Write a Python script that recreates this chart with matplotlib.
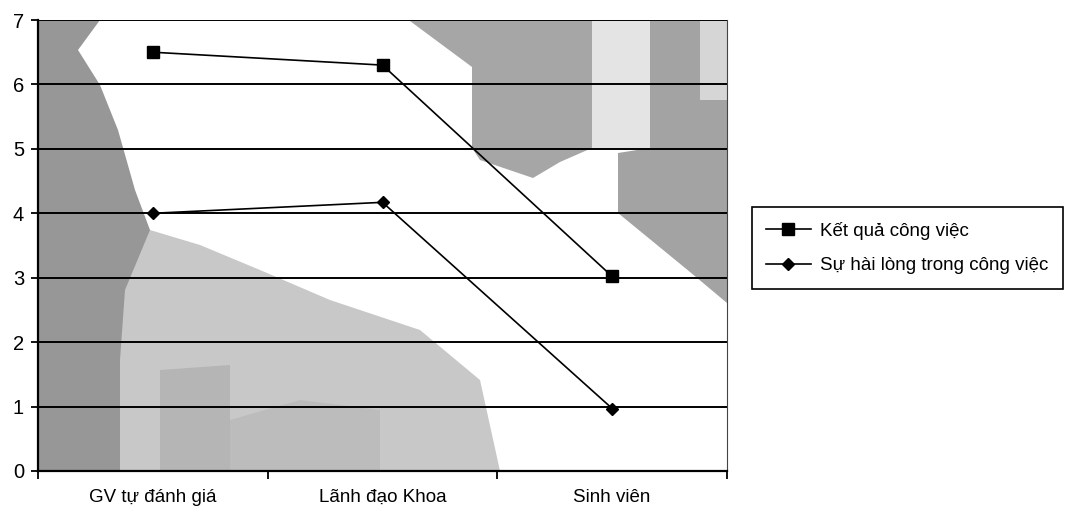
import matplotlib
matplotlib.use("Agg")
import matplotlib.pyplot as plt
from matplotlib.patches import Polygon

categories = ["GV tự đánh giá", "Lãnh đạo Khoa", "Sinh viên"]
ket_qua = [6.5, 6.3, 3.02]
hai_long = [4.0, 4.17, 0.97]
series_names = ["Kết quả công việc", "Sự hài lòng trong công việc"]

plt.rcParams['font.family'] = ['Liberation Sans', 'DejaVu Sans']

W, H = 1066, 519
L, R, T, B = 38, 727, 20, 471

fig = plt.figure(figsize=(W / 100, H / 100), dpi=100)
ax = fig.add_axes([L / W, 1 - B / H, (R - L) / W, (B - T) / H])

x = list(range(len(categories)))
ax.set_xlim(-0.5, len(categories) - 0.5)
ax.set_ylim(0, 7)


def bg(pts, color):
    """Scanned-texture backdrop shape, given in figure pixel positions."""
    frac = [((px - L) / (R - L), (B - py) / (B - T)) for px, py in pts]
    ax.add_patch(Polygon(frac, closed=True, transform=ax.transAxes,
                         facecolor=color, edgecolor='none', zorder=0))


ax.set_facecolor('white')
# lower-left mottled grey
bg([(38, 471), (38, 200), (150, 230), (200, 245), (260, 270), (330, 300), (420, 330),
    (480, 380), (500, 471)], '#c8c8c8')
# left dark band
bg([(38, 471), (38, 20), (100, 20), (78, 50), (100, 85), (118, 130), (135, 190),
    (150, 230), (125, 290), (120, 360), (120, 471)], '#979797')
# middle lower patches
bg([(160, 440), (160, 370), (230, 365), (230, 471), (160, 471)], '#b5b5b5')
bg([(230, 471), (230, 420), (300, 400), (380, 410), (380, 471)], '#bcbcbc')
# top-right grey block
bg([(410, 21), (592, 21), (592, 148), (560, 162), (533, 178), (480, 160), (472, 148),
    (472, 67)], '#a6a6a6')
# light textured strip
bg([(592, 21), (650, 21), (650, 148), (592, 148)], '#e4e4e4')
# right grey block
bg([(650, 21), (700, 21), (700, 100), (727, 100), (727, 303), (690, 272), (618, 213),
    (618, 153), (650, 148)], '#a3a3a3')
bg([(700, 21), (727, 21), (727, 100), (700, 100)], '#d6d6d6')

ax.set_yticks(range(0, 8))
ax.grid(axis='y', color='black', linewidth=1.4, zorder=1)
ax.set_axisbelow(True)

ax.plot(x, ket_qua, color='black', linewidth=1.2, marker='s', markersize=8,
        label=series_names[0], zorder=3)
ax.plot(x, hai_long, color='black', linewidth=1.2, marker='D', markersize=6.5,
        label=series_names[1], zorder=3)

# category ticks at boundaries, labels at centers
ax.set_xticks([i - 0.5 for i in range(len(categories) + 1)])
ax.set_xticklabels([])
ax.set_xticks(x, minor=True)
ax.set_xticklabels(categories, minor=True, fontsize=13.5)
ax.tick_params(axis='x', which='minor', length=0, pad=13)
ax.tick_params(axis='x', which='major', length=6, width=1.3, direction='out')
ax.tick_params(axis='y', length=5, width=1.3, direction='out', labelsize=14.5, pad=5)

ax.spines['top'].set_visible(False)
ax.spines['right'].set_linewidth(0.8)
ax.spines['right'].set_color('#444444')
ax.spines['left'].set_linewidth(1.6)
ax.spines['bottom'].set_linewidth(1.6)

leg = fig.legend(loc='center left', bbox_to_anchor=(746 / W, 1 - 248 / H), fontsize=13.5,
                 frameon=True, fancybox=False, edgecolor='black', handlelength=2.4,
                 borderpad=0.75, labelspacing=0.95, handletextpad=0.5, framealpha=1,
                 borderaxespad=0.3)
leg.get_frame().set_linewidth(1.2)

fig.savefig("out.png", dpi=100)
